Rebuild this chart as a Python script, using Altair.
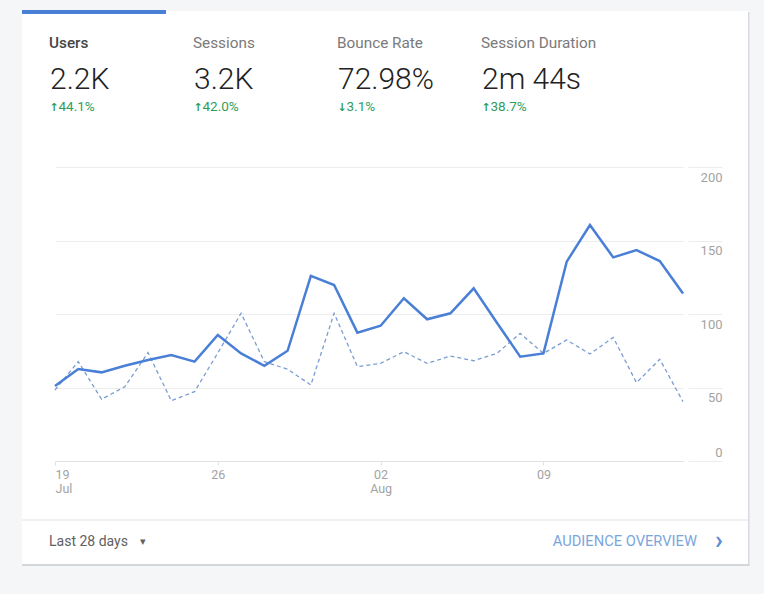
import altair as alt
import pandas as pd

# ---------------- data ----------------
dates = [f"2021-07-{d:02d}T00:00:00" for d in range(19, 32)] + [f"2021-08-{d:02d}T00:00:00" for d in range(1, 16)]
users_current = [51, 62.6, 60.3, 64.8, 68.7, 72.1, 67.6, 85.7, 73.2, 64.8,
                 75, 125.9, 119.7, 87.3, 92, 110.7, 96.4, 100.5, 117.5, 94,
                 71, 73.2, 135.6, 160.5, 138.5, 143.5, 136, 114]
users_previous = [48.3, 67.6, 42, 50.5, 73.7, 41, 47.2, 73.5, 100.5, 67.6,
                  62.4, 51.7, 100.5, 64.2, 66.4, 74.4, 66.4, 71.4, 68.2, 73.2,
                  86.8, 73.2, 82.3, 72.8, 84.1, 53.3, 69.2, 40.4]
y_ticks = [0, 50, 100, 150, 200]
metric_names = ["Users", "Sessions", "Bounce Rate", "Session Duration"]
metric_values = ["2.2K", "3.2K", "72.98%", "2m 44s"]
metric_arrows = ["\u2191", "\u2191", "\u2193", "\u2191"]
metric_changes = ["44.1%", "42.0%", "3.1%", "38.7%"]
footer_left = "Last 28 days"
footer_right = "AUDIENCE OVERVIEW"

df = pd.DataFrame({
    "date": dates * 2,
    "users": users_current + users_previous,
    "period": ["current"] * len(dates) + ["previous"] * len(dates),
})

FONT = "Roboto"
PAGE = "#f5f6f8"
W, H = 628, 294
one = pd.DataFrame({"k": [0]})

x_enc = alt.X(
    "date:T",
    scale=alt.Scale(domain=[alt.DateTime(year=2021, month=7, date=19),
                            alt.DateTime(year=2021, month=8, date=15)]),
    axis=alt.Axis(
        title=None,
        values=[alt.DateTime(year=2021, month=7, date=19),
                alt.DateTime(year=2021, month=7, date=26),
                alt.DateTime(year=2021, month=8, date=2),
                alt.DateTime(year=2021, month=8, date=9)],
        labelExpr="(datum.index == 0 || timeFormat(datum.value, '%d') <= '07') ? "
                  "[timeFormat(datum.value, '%d'), timeFormat(datum.value, '%b')] : "
                  "timeFormat(datum.value, '%d')",
        labelFlush=True,
        labelFont=FONT, labelFontSize=12.5, labelColor="#a3a3a3",
        labelLineHeight=14, labelPadding=3,
        tickSize=4, tickColor="#e2e2e2",
        domainColor="#e2e2e2", grid=False,
    ),
)
y_enc = alt.Y(
    "users:Q",
    scale=alt.Scale(domain=[0, 200], nice=False, zero=True),
    axis=alt.Axis(
        title=None, orient="right", values=y_ticks,
        offset=5, tickSize=34, tickColor="#ececec",
        labelAlign="right", labelPadding=0,
        labelBaseline={"condition": {"test": "datum.value == 0", "value": "bottom"}, "value": "top"},
        labelOffset={"condition": {"test": "datum.value == 0", "value": -2}, "value": 4},
        labelFont=FONT, labelFontSize=13, labelColor="#a3a3a3",
        domain=False, grid=True, gridColor="#ececec",
    ),
)

# ---------------- card frame (page colour around a white card) ----------------
def rect(x1, x2, y1, y2, color):
    return alt.Chart(one).mark_rect(color=color).encode(
        x=alt.value(x1), x2=alt.value(x2), y=alt.value(y1), y2=alt.value(y2))

layers = [
    rect(-55, -33, -167, 427, PAGE),
    rect(693, 709, -167, 427, PAGE),
    rect(-55, 709, -167, -156, PAGE),
    rect(-55, 709, 397, 427, PAGE),
    rect(693, 694.5, -155, 399, "#d8dbe0"),   # right shadow
    rect(-33, 694.5, 397, 399, "#d3d6db"),    # bottom shadow
    rect(-33, 111, -157, -153, "#4a7fd6"),    # active tab bar
]

divider = alt.Chart(one).mark_rule(color="#e4e4e4", strokeWidth=1).encode(
    x=alt.value(-33), x2=alt.value(693), y=alt.value(353))
layers.append(divider)

col_x = [-6, 138, 282, 426]
for i in range(4):
    sel = i == 0
    layers.append(alt.Chart(one).mark_text(
        text=metric_names[i], align="left", baseline="alphabetic", font=FONT,
        fontSize=15.3, fontWeight=500 if sel else 400,
        color="#454545" if sel else "#7a7a7a",
    ).encode(x=alt.value(col_x[i]), y=alt.value(-119)))
    layers.append(alt.Chart(one).mark_text(
        text=metric_values[i], align="left", baseline="alphabetic", font=FONT,
        fontSize=30, fontWeight=300, color="#222222",
    ).encode(x=alt.value(col_x[i] + 1), y=alt.value(-78)))
    layers.append(alt.Chart(one).mark_text(
        text=metric_arrows[i], align="left", baseline="alphabetic", font="DejaVu Sans",
        fontSize=11, fontWeight="bold", color="#2e9e5b",
    ).encode(x=alt.value(col_x[i] + 0.5), y=alt.value(-56)))
    layers.append(alt.Chart(one).mark_text(
        text=metric_changes[i], align="left", baseline="alphabetic", font=FONT,
        fontSize=13.5, color="#2e9e5b",
    ).encode(x=alt.value(col_x[i] + 9.5), y=alt.value(-56)))

layers.append(alt.Chart(one).mark_text(
    text=footer_left, align="left", baseline="alphabetic", font=FONT,
    fontSize=14, color="#616161").encode(x=alt.value(-6), y=alt.value(379)))
layers.append(alt.Chart(one).mark_text(
    text="\u25BE", align="left", baseline="alphabetic", font="DejaVu Sans",
    fontSize=11, color="#616161").encode(x=alt.value(85), y=alt.value(378)))
layers.append(alt.Chart(one).mark_text(
    text=footer_right, align="right", baseline="alphabetic", font=FONT,
    fontSize=14.7, color="#7ba6dc").encode(x=alt.value(642), y=alt.value(379)))
layers.append(alt.Chart(one).mark_text(
    text="\u203A", align="center", baseline="alphabetic", font=FONT,
    fontSize=26, fontWeight="bold", color="#5f8fd2").encode(x=alt.value(664), y=alt.value(382)))

# ---------------- lines ----------------
prev_line = alt.Chart(df).transform_filter(alt.datum.period == "previous").mark_line(
    color="#7b9dd0", strokeWidth=1.3, strokeDash=[4, 3]).encode(x=x_enc, y=y_enc)
cur_line = alt.Chart(df).transform_filter(alt.datum.period == "current").mark_line(
    color="#4a7fd6", strokeWidth=2.5).encode(x=x_enc, y=y_enc)

layers += [prev_line, cur_line]

chart = alt.layer(*layers).properties(
    width=W, height=H,
    autosize=alt.AutoSizeParams(type="none"),
    padding={"left": 55, "top": 167, "right": 81, "bottom": 133},
    background="#ffffff",
).configure_view(stroke=None)

chart.save("out.html", embed_options={"renderer": "svg", "actions": False})
